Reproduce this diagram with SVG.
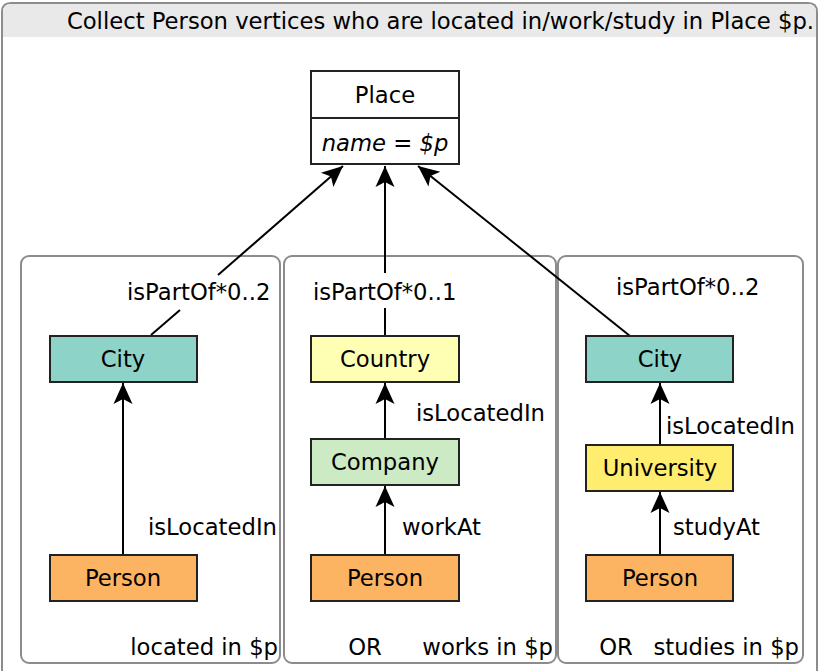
<svg xmlns="http://www.w3.org/2000/svg" width="819" height="671" viewBox="0 0 819 671">
<style>
text{font-family:"DejaVu Sans",sans-serif;font-size:22.7px;fill:#000}
.n{stroke:#222;stroke-width:2}
.m{text-anchor:middle}
.e{text-anchor:end}
.panel{fill:#fff;stroke:#8c8c8c;stroke-width:2}
.c line{stroke:#000;stroke-width:2}
</style>
<defs>
<marker id="ah" markerUnits="userSpaceOnUse" viewBox="-24 -12 26 24" refX="0" refY="0" markerWidth="26" markerHeight="24" orient="auto">
<path d="M0,0 L-21,-9.5 L-16,0 L-21,9.5 Z" fill="#000"/>
</marker>
</defs>
<rect x="0" y="0" width="819" height="671" fill="#fff"/>
<g id="frame">
<path d="M2,671 L2,12 Q2,3 11,3 L808,3 Q817,3 817,12 L817,671" fill="#fff" stroke="#8c8c8c" stroke-width="2"/>
<path d="M3,37 L3,12 Q3,4 11,4 L808,4 Q816,4 816,12 L816,37 Z" fill="#e9e9e9"/>
<text x="814" y="29" class="e">Collect Person vertices who are located in/work/study in Place $p.</text>
</g>
<g id="panels">
<rect class="panel" x="21" y="256" width="259" height="407" rx="8"/>
<rect class="panel" x="284" y="256" width="272" height="407" rx="8"/>
<rect class="panel" x="558" y="256" width="245" height="407" rx="8"/>
<text x="278" y="655" class="e">located in $p</text>
<text x="365" y="655" class="m">OR</text>
<text x="553" y="655" class="e">works in $p</text>
<text x="616" y="655" class="m">OR</text>
<text x="799" y="655" class="e">studies in $p</text>
</g>
<g class="c" id="connectors">
<line x1="151" y1="335" x2="180" y2="310"/>
<line x1="218" y1="275" x2="343" y2="166" marker-end="url(#ah)"/>
<line x1="385" y1="336" x2="385" y2="308"/>
<line x1="385" y1="273" x2="385" y2="166" marker-end="url(#ah)"/>
<line x1="630" y1="336" x2="418" y2="166" marker-end="url(#ah)"/>
<line x1="123" y1="555" x2="123" y2="383" marker-end="url(#ah)"/>
<line x1="385" y1="439" x2="385" y2="383" marker-end="url(#ah)"/>
<line x1="385" y1="555" x2="385" y2="486" marker-end="url(#ah)"/>
<line x1="660" y1="445" x2="660" y2="383" marker-end="url(#ah)"/>
<line x1="660" y1="555" x2="660" y2="492" marker-end="url(#ah)"/>
<text x="127" y="300">isPartOf*0..2</text>
<text x="313" y="300">isPartOf*0..1</text>
<text x="616" y="295">isPartOf*0..2</text>
<text x="148" y="535">isLocatedIn</text>
<text x="416" y="421">isLocatedIn</text>
<text x="402" y="535">workAt</text>
<text x="666" y="434">isLocatedIn</text>
<text x="673" y="535">studyAt</text>
</g>
<g id="place">
<rect class="n" x="311" y="71" width="148" height="93" fill="#fff"/>
<line x1="311" y1="118" x2="459" y2="118" stroke="#222" stroke-width="2"/>
<text x="385" y="103" class="m">Place</text>
<text x="385" y="151" class="m" font-style="italic">name = $p</text>
</g>
<g id="city1"><rect class="n" x="50" y="336" width="147" height="46" fill="#8dd3c7"/><text x="123" y="367" class="m">City</text></g>
<g id="person1"><rect class="n" x="50" y="555" width="147" height="46" fill="#fdb462"/><text x="123" y="586" class="m">Person</text></g>
<g id="country"><rect class="n" x="311" y="336" width="148" height="46" fill="#ffffb3"/><text x="385" y="367" class="m">Country</text></g>
<g id="company"><rect class="n" x="311" y="439" width="148" height="46" fill="#ccebc5"/><text x="385" y="470" class="m">Company</text></g>
<g id="person2"><rect class="n" x="311" y="555" width="148" height="46" fill="#fdb462"/><text x="385" y="586" class="m">Person</text></g>
<g id="city3"><rect class="n" x="586" y="336" width="147" height="46" fill="#8dd3c7"/><text x="660" y="367" class="m">City</text></g>
<g id="university"><rect class="n" x="586" y="445" width="147" height="46" fill="#ffed6f"/><text x="660" y="476" class="m">University</text></g>
<g id="person3"><rect class="n" x="586" y="555" width="147" height="46" fill="#fdb462"/><text x="660" y="586" class="m">Person</text></g>
</svg>
